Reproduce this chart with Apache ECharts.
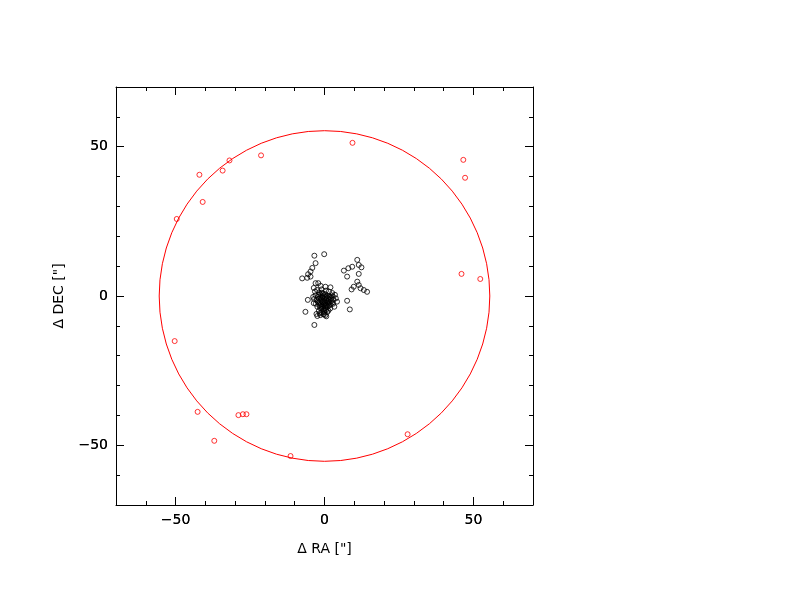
<!DOCTYPE html>
<html>
<head>
<meta charset="utf-8">
<script src="https://cdn.jsdelivr.net/npm/echarts@6/dist/echarts.min.js"></script>
<style>html,body{margin:0;padding:0;background:#fff}#c{width:792px;height:612px}</style>
</head>
<body>
<div id="c"></div>
<script>
const majorTicks = [-50, 0, 50];
const minorTicks = [-60, -40, -30, -20, -10, 10, 20, 30, 40, 60];
const circleRadius = [55.5];

const redPoints = [
  [9.4, 51.3], [46.6, 45.6], [47.2, 39.6], [46.0, 7.4], [52.3, 5.7],
  [-21.3, 47.1], [-31.9, 45.4], [-34.2, 42.0], [-42.0, 40.6], [-40.9, 31.5],
  [-49.6, 25.8], [-50.3, -15.1], [-42.6, -38.8], [-37.0, -48.5],
  [-28.9, -39.9], [-27.4, -39.6], [-26.2, -39.6], [-11.4, -53.6], [27.9, -46.3]
];

const blackPoints = [
  [-3.4, 13.5], [-0.1, 14.0], [-3.0, 11.0], [-4.1, 9.4], [-4.7, 8.2], [-5.5, 7.3],
  [-4.7, 6.5], [-7.5, 5.9], [-5.8, 6.1], [-3.0, 4.3], [-2.1, 4.3],
  [11.0, 12.1], [11.5, 10.4], [12.4, 9.6], [9.3, 9.8], [8.0, 9.3], [6.5, 8.5],
  [7.6, 6.5], [11.5, 7.4], [11.0, 4.8], [9.8, 3.1], [11.5, 3.7], [12.1, 2.6],
  [13.2, 2.0], [14.3, 1.4], [9.1, 2.2], [7.6, -1.6], [8.5, -4.5],
  [-5.6, -1.3], [-6.4, -5.3], [-3.4, -9.7], [-3.6, -2.4],
  [-1.3, 3.4], [0.3, 3.1], [2.0, 2.9], [-3.6, 2.7],
  [-3.2, 1.5], [-2.5, 2.0], [-1.8, 1.2], [-1.0, 2.2], [0.5, 1.8], [1.5, 1.5],
  [2.6, 1.0], [3.5, 0.4], [-3.0, 0.2], [-2.2, -0.3], [-1.4, 0.5], [-0.6, -0.1],
  [0.2, 0.6], [1.0, 0.1], [1.8, -0.4], [2.8, -0.2], [3.8, -0.8], [-3.5, -1.0],
  [-2.6, -1.4], [-1.8, -0.9], [-1.0, -1.6], [-0.2, -1.0], [0.6, -1.5], [1.4, -1.1],
  [2.2, -1.7], [3.0, -1.3], [4.2, -1.9], [-2.9, -2.6], [-2.0, -2.2], [-1.2, -2.8],
  [-0.4, -2.3], [0.4, -2.9], [1.2, -2.4], [2.0, -3.0], [2.9, -2.6], [-2.4, -3.6],
  [-1.5, -4.0], [-0.6, -3.5], [0.3, -4.1], [1.1, -3.6], [1.9, -4.2], [-1.9, -5.0],
  [-0.9, -5.5], [0.0, -4.9], [0.9, -5.4], [-1.4, -6.4], [-0.3, -6.2], [0.6, -6.8],
  [-0.8, -0.4], [0.0, -1.8], [0.8, -0.8], [-1.6, -1.9], [-0.2, 0.2], [1.6, -2.2],
  [-0.9, 1.1], [2.4, 0.2], [3.3, -3.6], [-3.8, -0.3], [-1.6, -5.8], [0.3, -6.4],
  [-2.4, -6.7], [-2.7, -6.0], [-0.2, -6.0],
  [-0.5, 0.9], [0.7, -0.3], [-1.3, -0.6], [1.2, -1.9], [-0.7, -2.0], [0.2, -2.4],
  [-1.7, -3.1], [-0.3, -3.0], [0.8, -3.2], [1.5, -3.0], [-1.0, -4.3], [0.6, -4.6],
  [-0.4, -4.4], [1.3, -4.9], [-1.2, -1.2], [0.3, -0.4], [2.1, -0.9], [-2.3, -1.8],
  [2.5, -2.3], [-0.1, -5.3], [-1.1, -3.6], [0.1, -3.4], [1.6, -0.2], [-2.0, 0.4]
];

const fontFam = 'DejaVu Sans';
const lineStyle = { color: '#000', width: 1 };
const fmt = v => (v < 0 ? '\u2212' + Math.abs(v) : String(v));

function mkAxis(pos, major, labels, extra) {
  return Object.assign({
    type: 'value', min: -70, max: 70, position: pos,
    axisLine: { show: !major, onZero: false, lineStyle },
    axisTick: { show: true, inside: true, length: major ? 8 : 4,
      customValues: major ? majorTicks : minorTicks, lineStyle },
    axisLabel: { show: labels, customValues: majorTicks, formatter: fmt,
      color: '#000', fontSize: 14, fontFamily: fontFam, margin: 8 },
    splitLine: { show: false }
  }, extra || {});
}

const chart = echarts.init(document.getElementById('c'), null, { renderer: 'canvas' });
chart.setOption({
  animation: false,
  backgroundColor: '#fff',
  grid: { left: 116, top: 87, width: 417, height: 418 },
  xAxis: [
    mkAxis('bottom', false, true, { name: 'Δ RA ["]', nameLocation: 'middle', nameGap: 37,
      nameTextStyle: { color: '#000', fontSize: 14, fontFamily: fontFam } }),
    mkAxis('bottom', true, true),
    mkAxis('top', false, false),
    mkAxis('top', true, false)
  ],
  yAxis: [
    mkAxis('left', false, true, { name: 'Δ DEC ["]', nameLocation: 'middle', nameGap: 50,
      nameRotate: 90, nameTextStyle: { color: '#000', fontSize: 14, fontFamily: fontFam } }),
    mkAxis('left', true, true),
    mkAxis('right', false, false),
    mkAxis('right', true, false)
  ],
  series: [
    {
      type: 'custom', xAxisIndex: 0, yAxisIndex: 0, silent: true,
      data: [[0, 0, circleRadius[0]]],
      renderItem: function (params, api) {
        const c = api.coord([api.value(0), api.value(1)]);
        const r = api.size([api.value(2), 0])[0];
        return { type: 'circle', shape: { cx: c[0], cy: c[1], r: r },
          style: { fill: 'none', stroke: '#ff0000', lineWidth: 1 } };
      }
    },
    {
      type: 'scatter', xAxisIndex: 0, yAxisIndex: 0, data: blackPoints,
      symbol: 'circle', symbolSize: 5,
      itemStyle: { color: 'rgba(0,0,0,0)', borderColor: '#000', borderWidth: 1 }
    },
    {
      type: 'scatter', xAxisIndex: 0, yAxisIndex: 0, data: redPoints,
      symbol: 'circle', symbolSize: 5,
      itemStyle: { color: 'rgba(0,0,0,0)', borderColor: '#ff0000', borderWidth: 1 }
    }
  ]
});
</script>
</body>
</html>
